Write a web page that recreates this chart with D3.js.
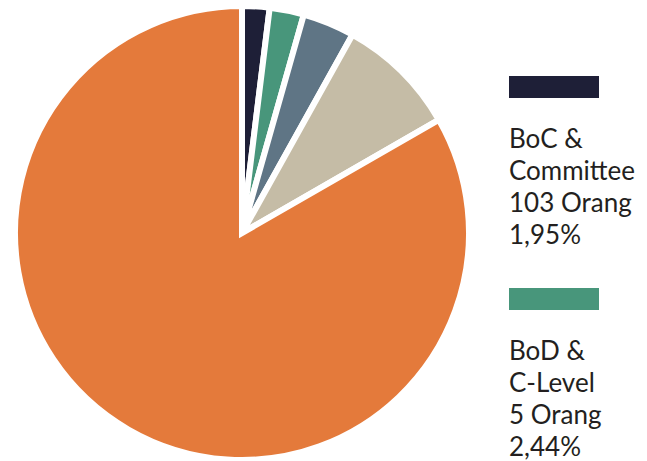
<!DOCTYPE html>
<html>
<head>
<meta charset="utf-8">
<script src="https://cdn.jsdelivr.net/npm/d3@7"></script>
<style>
  body { margin: 0; background: #fff; }
  svg text { font-family: Lato, "Open Sans", sans-serif; fill: #231f20; }
</style>
</head>
<body>
<script>
'use strict';

// slice data, clockwise from 12 o'clock
const groups = ["BoC & Committee", "BoD & C-Level", "Group 3", "Group 4", "Group 5"];
const shares = [1.95, 2.44, 3.7, 8.6, 83.31];
const colors = ["#1e1f37", "#48967b", "#5f7585", "#c5bca6", "#e47a3b"];

// legend entries shown on the right
const legendLines = [
  ["BoC &", "Committee", "103 Orang", "1,95%"],
  ["BoD &", "C-Level", "5 Orang", "2,44%"]
];

const width = 647, height = 461;
const cx = 242, cy = 233, radius = 227;

const svg = d3.select('body')
  .append('svg')
  .attr('width', width)
  .attr('height', height);

const pie = d3.pie()
  .sort(null)
  .value(d => d);

const arc = d3.arc()
  .innerRadius(0)
  .outerRadius(radius);

// draw pie slices with white gaps between them
svg.append('g')
  .attr('transform', `translate(${cx}, ${cy})`)
  .selectAll('path')
  .data(pie(shares))
  .enter()
  .append('path')
    .attr('d', arc)
    .attr('fill', (d, i) => colors[i])
    .attr('stroke', '#fff')
    .attr('stroke-width', 6)
    .attr('stroke-linejoin', 'miter');

// legend: color bar and four lines of text for each entry
const legendY = [76, 288];
const legend = svg.selectAll('.legend')
  .data(legendLines)
  .enter()
  .append('g')
  .attr('class', 'legend')
  .attr('transform', (d, i) => `translate(509, ${legendY[i]})`);

legend.append('rect')
  .attr('width', 90)
  .attr('height', 22)
  .attr('fill', (d, i) => colors[i]);

legend.selectAll('text')
  .data(d => d)
  .enter()
  .append('text')
    .attr('x', 0)
    .attr('y', (d, j) => 72 + j * 32)
    .style('font-size', '26px')
    .text(d => d);
</script>
</body>
</html>
